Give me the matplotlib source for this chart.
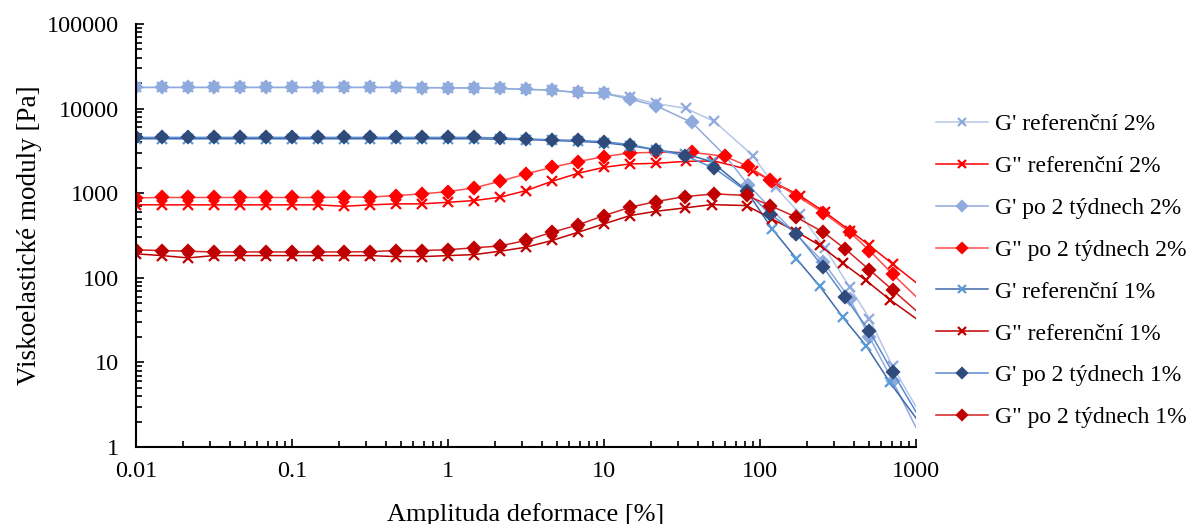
import numpy as np
import matplotlib.pyplot as plt

plt.rcParams['font.family'] = ['Liberation Serif', 'DejaVu Serif']

# strain amplitude [%] - shared low-strain part, then tails per measurement
x_low = [0.01, 0.0147, 0.0215, 0.0316, 0.0464, 0.0681, 0.1, 0.147, 0.215, 0.316,
         0.464, 0.681, 1, 1.47, 2.15, 3.16, 4.64, 6.81, 10, 14.7, 21.5]
x_ref2_tail = [33.5, 51, 90, 126, 180, 261, 377, 503, 707, 1000]
x_po2_tail = [36.6, 59.7, 83.7, 116, 171, 255, 377, 503, 707, 1000]
x_ref1_tail = [33, 49, 82, 119, 171, 242, 340, 478, 681, 1000]
x_po1_tail = [33, 51, 82, 116, 171, 255, 351, 503, 707, 1000]

# G' / G" [Pa]
gp_ref2 = [17800, 17800, 17800, 17800, 17800, 17800, 17800, 17800, 17800, 17800,
           17800, 17700, 17600, 17500, 17300, 16900, 16500, 15500, 15100, 13600, 11500,
           10050, 7060, 2780, 1175, 574, 222, 77, 33, 9.0, 3.0]
gpp_ref2 = [730, 728, 728, 728, 728, 728, 728, 728, 700, 728,
            748, 748, 781, 818, 895, 1073, 1382, 1718, 2023, 2218, 2254,
            2380, 2400, 1850, 1309, 937, 595, 362, 241, 146, 88]
gp_po2 = [17800, 17800, 17800, 17800, 17800, 17800, 17800, 17800, 17800, 17800,
          17800, 17700, 17600, 17500, 17300, 16900, 16500, 15500, 15100, 12970, 10820,
          6870, 2780, 1263, 676, 325, 153, 56.5, 19.9, 6.1, 1.7]
gpp_po2 = [880, 890, 890, 890, 890, 890, 890, 890, 900, 900,
           937, 981, 1045, 1155, 1382, 1690, 2023, 2360, 2707, 2990, 3040,
           3040, 2727, 2080, 1436, 937, 585, 345, 210, 111, 60]
gp_ref1 = [4400, 4400, 4400, 4400, 4400, 4400, 4400, 4400, 4400, 4400,
           4400, 4400, 4400, 4400, 4350, 4300, 4200, 4100, 3950, 3650, 3250,
           2920, 2360, 1073, 382, 169, 79, 34, 15.8, 5.8, 2.2]
gpp_ref1 = [192, 183, 172, 183, 183, 183, 183, 183, 183, 183,
            178, 178, 183, 188, 206, 230, 276, 345, 434, 544, 611,
            670, 733, 714, 497, 352, 241, 149, 93, 55, 33]
gp_po1 = [4570, 4570, 4570, 4570, 4570, 4570, 4570, 4570, 4570, 4570,
          4570, 4570, 4570, 4570, 4500, 4390, 4280, 4210, 4065, 3750, 3270,
          2780, 1970, 1053, 570, 333, 133, 59, 23.4, 7.7, 2.6]
gpp_po1 = [214, 210, 206, 202, 202, 202, 202, 202, 202, 204,
           210, 210, 215, 226, 238, 276, 345, 422, 544, 682, 796,
           912, 981, 940, 714, 520, 345, 220, 124, 72, 41]

labels = ["G' referenční 2%", 'G" referenční 2%', "G' po 2 týdnech 2%", 'G" po 2 týdnech 2%',
          "G' referenční 1%", 'G" referenční 1%', "G' po 2 týdnech 1%", 'G" po 2 týdnech 1%']

series = [
    (x_ref2_tail, gp_ref2, '#B4C7E7', '#8FAADC', 'x'),
    (x_ref2_tail, gpp_ref2, '#FF0000', '#FF0000', 'x'),
    (x_po2_tail, gp_po2, '#8FAADC', '#8FAADC', 'D'),
    (x_po2_tail, gpp_po2, '#FF4B4B', '#FF0000', 'D'),
    (x_ref1_tail, gp_ref1, '#3F68A8', '#5B9BD5', 'x'),
    (x_ref1_tail, gpp_ref1, '#C00000', '#C00000', 'x'),
    (x_po1_tail, gp_po1, '#5B8BD0', '#2F4B7C', 'D'),
    (x_po1_tail, gpp_po1, '#D22020', '#C00000', 'D'),
]

fig = plt.figure(figsize=(11.88, 5.24), dpi=100)
ax = fig.add_axes([136 / 1188, 77 / 524, 780 / 1188, 423 / 524])

for (tail, y, lc, mc, mk), lab in zip(series, labels):
    x = x_low + tail
    ms = 7.5 if mk == 'x' else 6.2
    ax.plot(x, y, color=lc, lw=1.1, marker=mk, ms=ms, mfc=mc, mec=mc, mew=1.6,
            markevery=list(range(len(x) - 1)), label=lab)

ax.set_xscale('log')
ax.set_yscale('log')
ax.set_xlim(0.01, 1000)
ax.set_ylim(1, 100000)
ax.set_xticks([0.01, 0.1, 1, 10, 100, 1000])
ax.set_xticklabels(['0.01', '0.1', '1', '10', '100', '1000'])
ax.set_yticks([1, 10, 100, 1000, 10000, 100000])
ax.set_yticklabels(['1', '10', '100', '1000', '10000', '100000'])
ax.tick_params(which='both', direction='in', labelsize=17.5, width=1.2, color='black')
ax.tick_params(which='major', length=6)
ax.tick_params(which='minor', length=4)
ax.tick_params(axis='x', pad=10)
ax.tick_params(axis='y', pad=12)
for s in ['top', 'right']:
    ax.spines[s].set_visible(False)
for s in ['left', 'bottom']:
    ax.spines[s].set_linewidth(1.5)
    ax.spines[s].set_color('black')

ax.set_xlabel('Amplituda deformace [%]', fontsize=19, labelpad=15)
ax.set_ylabel('Viskoelastické moduly [Pa]', fontsize=19.5, labelpad=4)

leg = ax.legend(loc='center left', bbox_to_anchor=(915 / 1188, 253 / 524),
                bbox_transform=fig.transFigure, frameon=False, fontsize=17,
                handlelength=2.2, handletextpad=0.3, labelspacing=0.86,
                markerscale=0.85)

fig.savefig('out.png', dpi=100)
